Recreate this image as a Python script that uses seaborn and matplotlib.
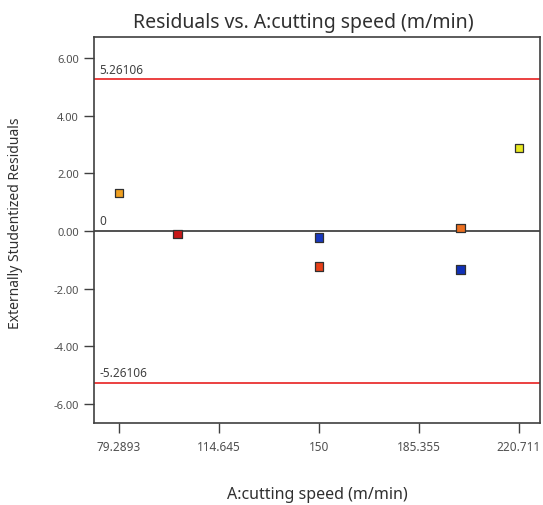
import numpy as np
import pandas as pd
import matplotlib
matplotlib.use('Agg')
import matplotlib.pyplot as plt
import seaborn as sns

# 数据
cutting_speed = [79.2893, 100.0, 150.0, 150.0, 200.0, 200.0, 220.711]
residuals = [1.32, -0.10, -0.22, -1.23, 0.10, -1.34, 2.88]
point_group = ['p1', 'p2', 'p3', 'p4', 'p5', 'p6', 'p7']
point_colors = ['#f0a020', '#c81818', '#1838c0', '#e84018', '#ec7020', '#1030b8', '#e8e820']

x_ticks = [79.2893, 114.645, 150, 185.355, 220.711]
x_tick_labels = ['79.2893', '114.645', '150', '185.355', '220.711']
y_ticks = [-6, -4, -2, 0, 2, 4, 6]
limit = 5.26106

df = pd.DataFrame({'speed': cutting_speed, 'resid': residuals, 'group': point_group})

sns.set_style('white')
plt.rcParams['font.family'] = ['Noto Sans', 'DejaVu Sans']

fig = plt.figure(figsize=(5.43, 5.06), dpi=100)
ax = fig.add_axes([0.1731, 0.162, 0.8214, 0.7628])

# 上下限红线和零线
ax.axhline(limit, color='#e82020', lw=1.2, zorder=1)
ax.axhline(-limit, color='#e82020', lw=1.2, zorder=1)
ax.axhline(0, color='#333333', lw=1.2, zorder=1)

sns.scatterplot(data=df, x='speed', y='resid', hue='group',
                palette=dict(zip(point_group, point_colors)),
                marker='s', s=38, edgecolor='#303030', linewidth=0.9,
                legend=False, ax=ax, zorder=3)

ax.text(72.3, limit + 0.12, '5.26106', fontsize=8.5, color='#404040', va='bottom')
ax.text(72.3, -limit + 0.12, '-5.26106', fontsize=8.5, color='#404040', va='bottom')
ax.text(72.3, 0.15, '0', fontsize=8.5, color='#404040', va='bottom')

ax.set_xlim(70.4, 228.2)
ax.set_ylim(-6.66, 6.72)
ax.set_xticks(x_ticks)
ax.set_xticklabels(x_tick_labels)
ax.set_yticks(y_ticks)
ax.set_yticklabels([f'{v:.2f}' for v in y_ticks])
ax.tick_params(axis='both', direction='out', length=7, width=1, color='#404040',
               labelsize=8, labelcolor='#505050', bottom=True, left=True)
ax.tick_params(axis='x', pad=5, labelsize=8.5)
ax.tick_params(axis='y', pad=4)
for sp in ax.spines.values():
    sp.set_color('#404040')
    sp.set_linewidth(1.2)

ax.set_xlabel('')
ax.set_ylabel('')
fig.text(0.558, 0.955, 'Residuals vs. A:cutting speed (m/min)', ha='center', va='center',
         fontsize=14, color='#303030')
fig.text(0.584, 0.022, 'A:cutting speed (m/min)', ha='center', va='center',
         fontsize=11.5, color='#303030')
fig.text(0.028, 0.559, 'Externally Studentized Residuals', ha='center', va='center',
         rotation=90, fontsize=10, color='#303030')

fig.savefig('out.png', dpi=100)
